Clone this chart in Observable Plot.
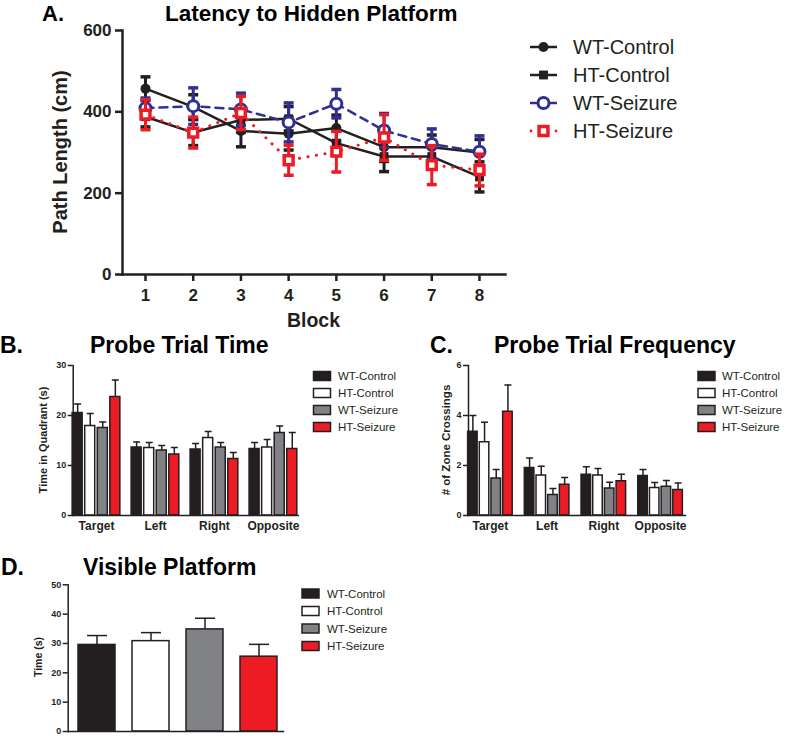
<!DOCTYPE html>
<html>
<head>
<meta charset="utf-8">
<script src="https://cdn.jsdelivr.net/npm/d3@7"></script>
<script src="https://cdn.jsdelivr.net/npm/@observablehq/plot@0.6"></script>
<style>
  html, body { margin: 0; padding: 0; background: #fff; }
  #fig { position: relative; width: 787px; height: 736px; overflow: hidden; font-family: "Liberation Sans", Arial, sans-serif; }
  #fig svg { position: absolute; }
</style>
</head>
<body>
<div id="fig"></div>
<script>
// ---------------- DATA ----------------
const groups = ["WT-Control", "HT-Control", "WT-Seizure", "HT-Seizure"];
const blocks = [1, 2, 3, 4, 5, 6, 7, 8];

// A. Path length (cm) per block, mean and SEM
const latWTControl     = [457, 412, 353, 346, 360, 313, 313, 300];
const latWTControlSEM  = [29, 30, 39, 40, 32, 35, 30, 32];
const latHTControl     = [388, 349, 380, 383, 323, 290, 290, 240];
const latHTControlSEM  = [25, 32, 30, 30, 30, 37, 30, 37];
const latWTSeizure     = [409, 414, 406, 374, 420, 354, 321, 302];
const latWTSeizureSEM  = [25, 45, 40, 48, 35, 42, 37, 39];
const latHTSeizure     = [393, 349, 397, 281, 302, 337, 269, 257];
const latHTSeizureSEM  = [37, 38, 41, 37, 50, 56, 48, 39];

// B. Time in quadrant (s)
const quadrants = ["Target", "Left", "Right", "Opposite"];
const timeWTControl    = [20.5, 13.6, 13.2, 13.3];
const timeWTControlSEM = [1.8, 1.1, 1.2, 1.3];
const timeHTControl    = [17.9, 13.5, 15.5, 13.6];
const timeHTControlSEM = [2.5, 1.1, 1.3, 1.6];
const timeWTSeizure    = [17.5, 13.0, 13.6, 16.5];
const timeWTSeizureSEM = [1.2, 1.0, 1.0, 1.4];
const timeHTSeizure    = [23.7, 12.2, 11.3, 13.3];
const timeHTSeizureSEM = [3.4, 1.4, 1.3, 3.3];

// C. # of zone crossings
const freqWTControl    = [3.35, 1.90, 1.63, 1.58];
const freqWTControlSEM = [0.65, 0.40, 0.32, 0.26];
const freqHTControl    = [2.93, 1.60, 1.60, 1.10];
const freqHTControlSEM = [0.80, 0.37, 0.28, 0.22];
const freqWTSeizure    = [1.48, 0.82, 1.08, 1.15];
const freqWTSeizureSEM = [0.36, 0.26, 0.25, 0.25];
const freqHTSeizure    = [4.15, 1.23, 1.37, 1.02];
const freqHTSeizureSEM = [1.07, 0.29, 0.28, 0.28];

// D. Visible platform time (s)
const visibleMean = [29.5, 30.8, 34.8, 25.5];
const visibleSEM  = [3.2, 2.9, 3.8, 4.2];

// ---------------- STYLE ----------------
const INK = "#231f20", BLUE = "#2e3192", RED = "#ed1c24", GRAY = "#808285";
const FONT = "Liberation Sans, Arial, sans-serif";
const barFill = {"WT-Control": INK, "HT-Control": "#ffffff", "WT-Seizure": GRAY, "HT-Seizure": RED};
const lookA = {
  "WT-Control": {color: INK,  dash: undefined,  symbol: "circle", fill: INK,     r: 5,   sw: 0,   lw: 2.5},
  "HT-Control": {color: INK,  dash: undefined,  symbol: "square", fill: INK,     r: 5,   sw: 0,   lw: 2.5},
  "WT-Seizure": {color: BLUE, dash: "8,6",      symbol: "circle", fill: "white", r: 5.5, sw: 3,   lw: 2.5},
  "HT-Seizure": {color: RED,  dash: "0.1,8.5",  symbol: "square", fill: "white", r: 5,   sw: 3.5, lw: 3}
};
const cap = w => ({ draw(ctx) { ctx.moveTo(-w / 2, 0); ctx.lineTo(w / 2, 0); } });
const intFmt = d3.format("d");

const fig = document.getElementById("fig");
function place(svg, left, top) { svg.style.left = left + "px"; svg.style.top = top + "px"; fig.appendChild(svg); }
const baseStyle = {background: "transparent", overflow: "visible", fontFamily: FONT, color: INK};

// ---------------- PANEL A ----------------
const latMeans = [latWTControl, latHTControl, latWTSeizure, latHTSeizure];
const latSEMs = [latWTControlSEM, latHTControlSEM, latWTSeizureSEM, latHTSeizureSEM];
const seriesA = groups.map((g, gi) => ({g, rows: blocks.map((b, i) => ({block: b, v: latMeans[gi][i], e: latSEMs[gi][i]}))}));

const plotA = Plot.plot({
  width: 520, height: 340,
  marginLeft: 122, marginRight: 15, marginTop: 30, marginBottom: 66,
  style: baseStyle,
  x: {domain: [0.518, 8.545]},
  y: {domain: [0, 600]},
  marks: [
    Plot.axisX({ticks: blocks, tickSize: 7, tickPadding: 7, strokeWidth: 2.5, fontSize: 17, fontWeight: "bold", label: null, tickFormat: intFmt}),
    Plot.axisY({ticks: [0, 200, 400, 600], tickSize: 7, tickPadding: 4, strokeWidth: 2.5, fontSize: 17, fontWeight: "bold", label: null, tickFormat: intFmt}),
    Plot.frame({anchor: "left", strokeWidth: 2.5}),
    Plot.frame({anchor: "bottom", strokeWidth: 2.5}),
    ...seriesA.flatMap(({g, rows}) => {
      const s = lookA[g];
      return [
        Plot.line(rows, {x: "block", y: "v", stroke: s.color, strokeWidth: s.lw, strokeDasharray: s.dash, strokeLinecap: "round"}),
        Plot.ruleX(rows, {x: "block", y1: d => d.v - d.e, y2: d => d.v + d.e, stroke: s.color, strokeWidth: 3}),
        Plot.dot(rows, {x: "block", y: d => d.v + d.e, symbol: cap(10), r: 1, stroke: s.color, strokeWidth: 3.5, fill: "none"}),
        Plot.dot(rows, {x: "block", y: d => d.v - d.e, symbol: cap(10), r: 1, stroke: s.color, strokeWidth: 3.5, fill: "none"}),
        Plot.dot(rows, {x: "block", y: "v", symbol: s.symbol, r: s.r, fill: s.fill, stroke: s.sw ? s.color : undefined, strokeWidth: s.sw || undefined})
      ];
    })
  ]
});
place(plotA, 0, 0);

// ---------------- BAR PANELS B & C ----------------
function barPanel({means, sems, yDomain, yTicks, xDomain, width, height, mL, mR, mT, mB, barW, step, capW}) {
  const rows = [];
  groups.forEach((g, gi) => quadrants.forEach((q, qi) =>
    rows.push({g, gi, q, qi, v: means[gi][qi], e: sems[gi][qi], xc: qi + (gi - 1.5) * step})));
  return Plot.plot({
    width, height, marginLeft: mL, marginRight: mR, marginTop: mT, marginBottom: mB,
    style: baseStyle,
    x: {domain: xDomain},
    y: {domain: yDomain},
    marks: [
      ...groups.map(g => Plot.rect(rows.filter(d => d.g === g), {
        x1: d => d.xc - barW / 2, x2: d => d.xc + barW / 2, y1: 0, y2: "v",
        fill: barFill[g], stroke: INK, strokeWidth: 1.5})),
      Plot.ruleX(rows, {x: "xc", y1: "v", y2: d => d.v + d.e, stroke: INK, strokeWidth: 1.5}),
      Plot.dot(rows, {x: "xc", y: d => d.v + d.e, symbol: cap(capW), r: 1, stroke: INK, strokeWidth: 1.5, fill: "none"}),
      Plot.axisY({ticks: yTicks, tickSize: 5, tickPadding: 2, strokeWidth: 1.5, fontSize: 9, fontWeight: "bold", label: null, tickFormat: intFmt}),
      Plot.axisX({ticks: [0, 1, 2, 3], tickSize: 0, tickPadding: 6, fontSize: 12, fontWeight: "bold", label: null, tickFormat: i => quadrants[i]}),
      Plot.frame({anchor: "left", strokeWidth: 1.5}),
      Plot.frame({anchor: "bottom", strokeWidth: 1.5})
    ]
  });
}

const plotB = barPanel({
  means: [timeWTControl, timeHTControl, timeWTSeizure, timeHTSeizure],
  sems: [timeWTControlSEM, timeHTControlSEM, timeWTSeizureSEM, timeHTSeizureSEM],
  yDomain: [0, 30], yTicks: [0, 10, 20, 30], xDomain: [-0.395, 3.42],
  width: 310, height: 180, mL: 72.7, mR: 12.3, mT: 10, mB: 20,
  barW: 0.17, step: 0.213, capW: 7
});
place(plotB, 0, 355);

const plotC = barPanel({
  means: [freqWTControl, freqHTControl, freqWTSeizure, freqHTSeizure],
  sems: [freqWTControlSEM, freqHTControlSEM, freqWTSeizureSEM, freqHTSeizureSEM],
  yDomain: [0, 6], yTicks: [0, 2, 4, 6], xDomain: [-0.386, 3.44],
  width: 300, height: 180, mL: 68, mR: 15, mT: 10, mB: 20,
  barW: 0.168, step: 0.206, capW: 7
});
place(plotC, 400, 355);

// ---------------- PANEL D ----------------
const rowsD = groups.map((g, i) => ({g, v: visibleMean[i], e: visibleSEM[i]}));
const plotD = Plot.plot({
  width: 300, height: 166, marginLeft: 67.7, marginRight: 17, marginTop: 14.3, marginBottom: 5,
  style: baseStyle,
  x: {domain: groups, paddingInner: 0.31, paddingOuter: 0.12, align: 0.65, axis: null},
  y: {domain: [0, 50]},
  marks: [
    ...groups.map(g => Plot.barY(rowsD.filter(d => d.g === g), {x: "g", y: "v", fill: barFill[g], stroke: INK, strokeWidth: 1.5})),
    Plot.ruleX(rowsD, {x: "g", y1: "v", y2: d => d.v + d.e, stroke: INK, strokeWidth: 1.5}),
    Plot.dot(rowsD, {x: "g", y: d => d.v + d.e, symbol: cap(20), r: 1, stroke: INK, strokeWidth: 1.5, fill: "none"}),
    Plot.axisY({ticks: [0, 10, 20, 30, 40, 50], tickSize: 5, tickPadding: 2, strokeWidth: 1.5, fontSize: 9, fontWeight: "bold", label: null, tickFormat: intFmt}),
    Plot.frame({anchor: "left", strokeWidth: 1.5}),
    Plot.frame({anchor: "bottom", strokeWidth: 1.5})
  ]
});
place(plotD, 0, 570);

// ---------------- OVERLAY: titles, axis titles, legends ----------------
const ov = d3.select(fig).append("svg")
  .attr("width", 787).attr("height", 736)
  .style("left", "0px").style("top", "0px").style("pointer-events", "none")
  .attr("font-family", FONT).attr("fill", "#000");

function txt(x, y, s, size, weight, anchor) {
  return ov.append("text").attr("x", x).attr("y", y).attr("font-size", size)
    .attr("font-weight", weight || "normal").attr("text-anchor", anchor || "start").text(s);
}
function vtxt(cx, cy, s, size) {
  return ov.append("text").attr("transform", `translate(${cx},${cy}) rotate(-90)`)
    .attr("text-anchor", "middle").attr("dy", "0.35em").attr("font-size", size)
    .attr("font-weight", "bold").attr("fill", INK).text(s);
}

// panel letters and titles
txt(42, 21, "A.", 22, "bold");
txt(165, 21, "Latency to Hidden Platform", 22.5, "bold");
txt(0, 353, "B.", 23, "bold");
txt(90, 353, "Probe Trial Time", 23, "bold");
txt(430, 353, "C.", 23, "bold");
txt(494, 353, "Probe Trial Frequency", 23, "bold");
txt(1, 575, "D.", 23, "bold");
txt(83, 575, "Visible Platform", 23, "bold");

// axis titles
txt(313.5, 327, "Block", 19.5, "bold", "middle").attr("fill", INK);
vtxt(60, 152, "Path Length (cm)", 20);
vtxt(43, 440, "Time in Quadrant (s)", 11);
vtxt(446, 440, "# of Zone Crossings", 11.5);
vtxt(38, 657, "Time (s)", 10.5);

// legend A (line + marker)
groups.forEach((g, i) => {
  const s = lookA[g];
  const y = 47 + i * 28;
  const gEl = ov.append("g");
  if (g === "HT-Seizure") {
    [531, 556].forEach(x => gEl.append("circle").attr("cx", x).attr("cy", y).attr("r", 1.4).attr("fill", RED));
  } else if (g === "WT-Seizure") {
    gEl.append("line").attr("x1", 530).attr("x2", 537).attr("y1", y).attr("y2", y).attr("stroke", BLUE).attr("stroke-width", 2.5);
    gEl.append("line").attr("x1", 550).attr("x2", 557).attr("y1", y).attr("y2", y).attr("stroke", BLUE).attr("stroke-width", 2.5);
  } else {
    gEl.append("line").attr("x1", 530).attr("x2", 557).attr("y1", y).attr("y2", y).attr("stroke", INK).attr("stroke-width", 2.5);
  }
  const sym = d3.symbol().type(s.symbol === "circle" ? d3.symbolCircle : d3.symbolSquare).size(Math.PI * s.r * s.r);
  gEl.append("path").attr("d", sym()).attr("transform", `translate(543.5,${y})`)
    .attr("fill", s.fill).attr("stroke", s.sw ? s.color : "none").attr("stroke-width", s.sw || 0);
  txt(573, y, g, 20, "normal").attr("dy", "0.35em").attr("fill", INK);
});

// bar legends
function barLegend(sx, tx, y0, stepY, size) {
  groups.forEach((g, i) => {
    const y = y0 + i * stepY;
    ov.append("rect").attr("x", sx).attr("y", y - 4.5).attr("width", 17).attr("height", 9)
      .attr("fill", barFill[g]).attr("stroke", INK).attr("stroke-width", 1.5);
    txt(tx, y, g, size, "normal").attr("dy", "0.35em").attr("fill", INK);
  });
}
barLegend(313.5, 338, 376, 17, 11.5);
barLegend(698, 722, 376, 17, 11.5);
barLegend(302, 327, 593.5, 17.5, 11.5);
</script>
</body>
</html>
